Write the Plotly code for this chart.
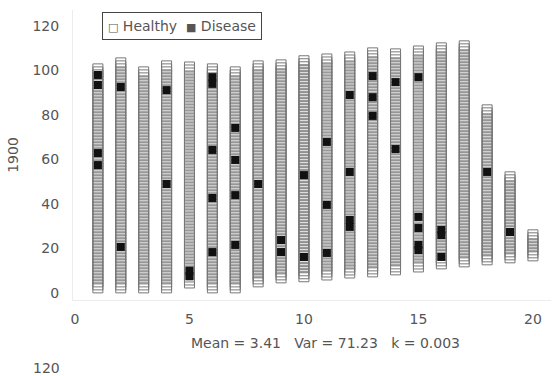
import plotly.graph_objects as go

# ---- data ----
columns = list(range(1, 21))
col_bottom = [0, 0, 0, 0, 2.2, 0, 0, 2.7, 4.5, 5.0, 5.8, 6.7, 7.2, 8.1, 9.4, 10.8, 11.7, 12.6, 13.5, 14.4]
col_top = [103.4, 106.1, 101.6, 104.3, 103.4, 102.5, 101.1, 104.3, 105.0, 106.1,
           107.4, 108.3, 109.7, 110.1, 111.0, 112.4, 112.8, 84.5, 53.9, 28.3]

disease_x = [1, 1, 1, 1, 2, 2, 4, 4, 5, 5, 6, 6, 6, 6, 6, 7, 7, 7, 7, 8,
             9, 9, 10, 10, 11, 11, 11, 12, 12, 12, 12, 13, 13, 13, 14, 14,
             15, 15, 15, 15, 15, 16, 16, 16, 18, 19]
disease_y = [98, 93.5, 62.9, 57.5, 92.6, 20.7, 91.2, 49, 7.5, 10, 97, 94, 64.3, 42.7, 18.4,
             74.2, 59.8, 44, 21.6, 49, 23.8, 18.4, 53, 16.2, 67.9, 39.6, 18,
             89, 54.4, 32.8, 29.7, 97.5, 88, 79.6, 94.8, 64.7,
             97, 34.2, 29.2, 21.6, 19.3, 28.3, 26, 16.2, 54.4, 27.4]

x_ticks = [0, 5, 10, 15, 20]
y_ticks = [0, 20, 40, 60, 80, 100, 120]
y_title = "1900"
stats_text = "Mean = 3.41\u00a0\u00a0 Var = 71.23\u00a0\u00a0 k = 0.003"

# unit squares stacked in each column
step = 1.3484
half = 2.3
heal_x, heal_y = [], []
for cx, lo, hi in zip(columns, col_bottom, col_top):
    n = int(round((hi - lo - 2 * half) / step)) + 1
    for i in range(n):
        heal_x.append(cx)
        heal_y.append(lo + half + i * step)

FONT = "DejaVu Sans"
TXT = "#555555"

fig = go.Figure()
fig.add_trace(go.Scatter(
    x=heal_x, y=heal_y, mode="markers", name="Healthy", showlegend=False,
    marker=dict(symbol="square-open", size=10, color="#777777", line=dict(width=1, color="#777777")),
))
fig.add_trace(go.Scatter(
    x=disease_x, y=disease_y, mode="markers", name="Disease", showlegend=False,
    marker=dict(symbol="square", size=8, color="#111111"),
))

fig.update_layout(
    width=560, height=376,
    margin=dict(l=73, r=9, t=10, b=76),
    paper_bgcolor="white", plot_bgcolor="white",
    font=dict(family=FONT, size=14, color=TXT),
    showlegend=False,
    xaxis=dict(range=[-0.087, 20.79], tickvals=x_ticks, showgrid=False, zeroline=False,
               showline=True, linecolor="#ececec", linewidth=1, ticks="",
               ticklabelstandoff=6, tickfont=dict(family=FONT, size=14, color=TXT)),
    yaxis=dict(range=[-3.15, 127.2], tickvals=y_ticks, showgrid=False, zeroline=False,
               showline=True, linecolor="#ececec", linewidth=1, ticks="",
               ticklabelstandoff=10, tickfont=dict(family=FONT, size=14, color=TXT),
               title=dict(text=y_title, standoff=10, font=dict(family=FONT, size=14, color=TXT))),
    annotations=[
        dict(xref="paper", yref="paper", x=0.0607, y=0.945, xanchor="left", yanchor="middle",
             text="<span style='font-size:11px'>\u25a1</span> Healthy  <span style='font-size:11px'>\u25a0</span> Disease",
             showarrow=False,
             font=dict(family=FONT, size=14, color=TXT),
             bordercolor="#444444", borderwidth=1, borderpad=5, bgcolor="white"),
        dict(xref="paper", yref="paper", x=0.529, y=-0.148, xanchor="center", yanchor="middle",
             text=stats_text, showarrow=False, font=dict(family=FONT, size=14, color=TXT)),
        dict(xref="paper", yref="paper", x=-0.023, y=-0.234, xanchor="right", yanchor="middle",
             text="120", showarrow=False, font=dict(family=FONT, size=14, color=TXT)),
    ],
)

fig.write_html("out.html")
